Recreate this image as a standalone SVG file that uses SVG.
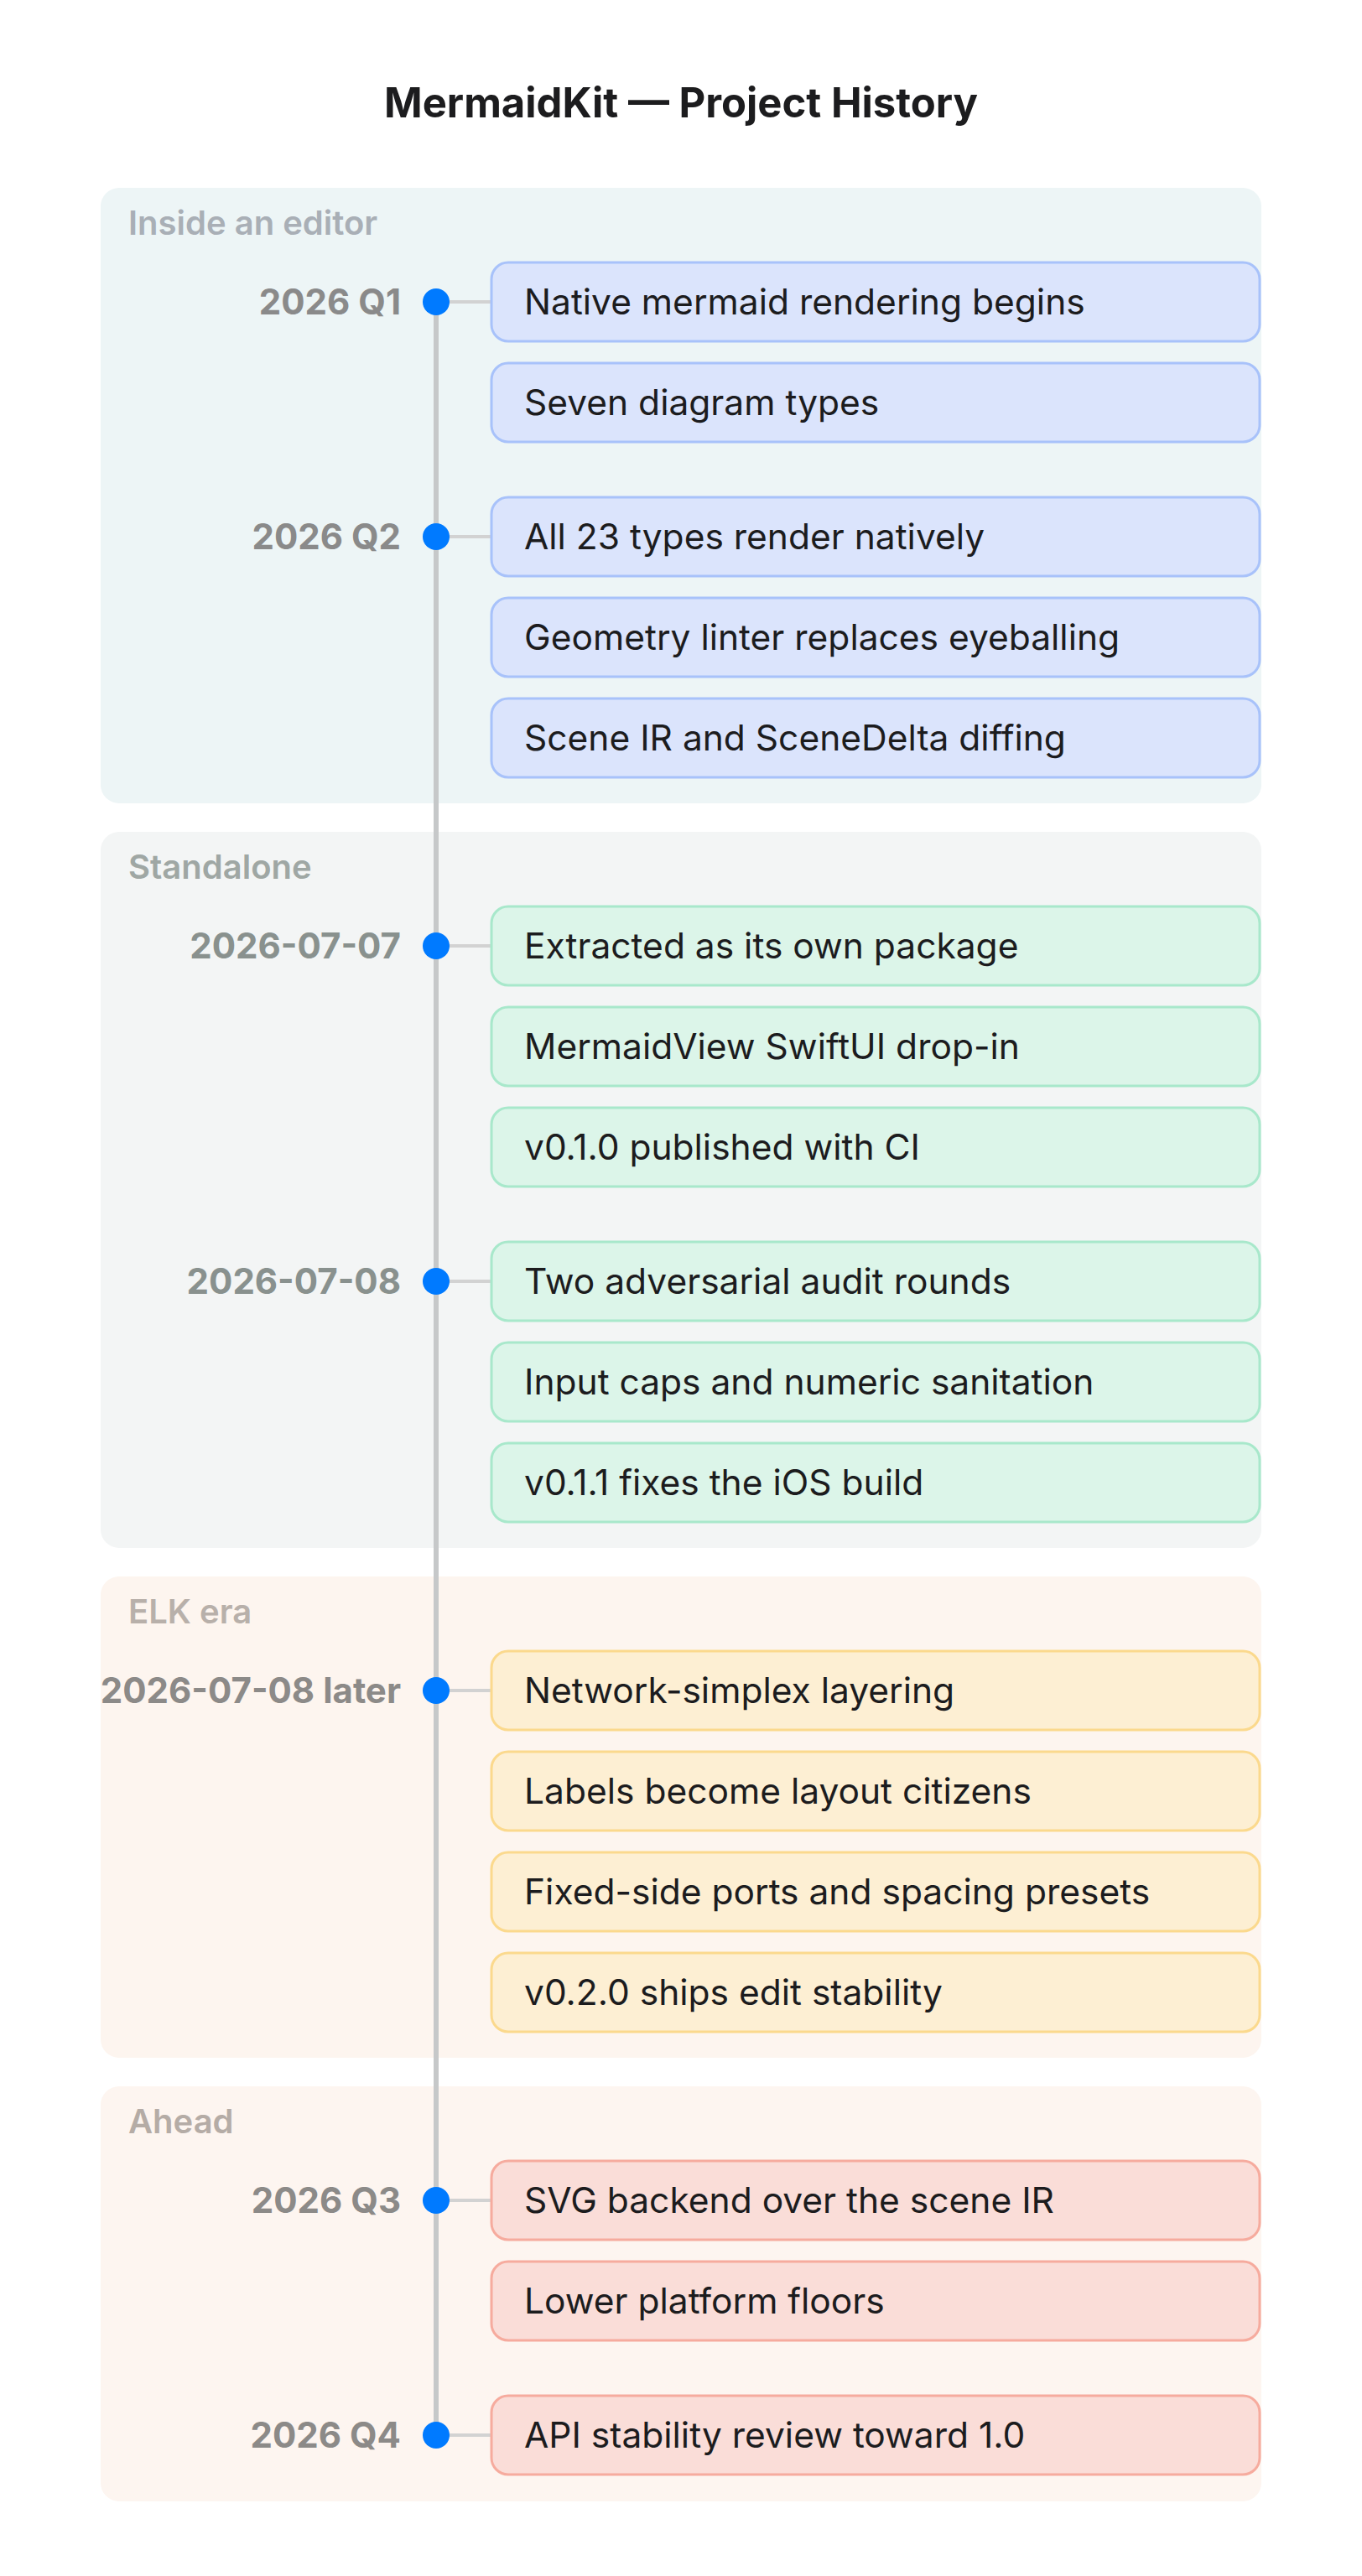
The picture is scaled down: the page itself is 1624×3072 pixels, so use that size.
<svg xmlns="http://www.w3.org/2000/svg" width="1624" height="3072" viewBox="0 0 1624 3072">
<style>
text { font-family: Inter, "Noto Sans", "Liberation Sans", sans-serif; }
.title { font-size: 49px; font-weight: 700; fill: #1c1c1e; }
.sec { font-size: 40px; font-weight: 600; }
.date { font-size: 42px; font-weight: 700; text-anchor: end; }
.ev { font-size: 42.5px; font-weight: 400; fill: #1c1c1e; }
.box { stroke-width: 3; }
.b1 { fill: #dbe4fc; stroke: #a8c2fa; }
.b2 { fill: #dcf5e9; stroke: #a8e8cb; }
.b3 { fill: #fdefd3; stroke: #fbd98d; }
.b4 { fill: #fadDd8; stroke: #f6ab9e; }
.tick { stroke: #d2d2d2; stroke-width: 4; }
.dot { fill: #007aff; }
</style>
<rect width="1624" height="3072" fill="#ffffff"/>
<text class="title" x="812" y="140" text-anchor="middle">MermaidKit — Project History</text>

<g id="section-inside-an-editor">
<rect x="120" y="224" width="1384" height="734" rx="22" fill="#edf5f6"/>
<text class="sec" x="153" y="280" fill="#a9afb6">Inside an editor</text>
</g>
<g id="section-standalone">
<rect x="120" y="992" width="1384" height="854" rx="22" fill="#f3f5f5"/>
<text class="sec" x="153" y="1048" fill="#9fa7a4">Standalone</text>
</g>
<g id="section-elk-era">
<rect x="120" y="1880" width="1384" height="574" rx="22" fill="#fdf5ef"/>
<text class="sec" x="153" y="1936" fill="#b8b0aa">ELK era</text>
</g>
<g id="section-ahead">
<rect x="120" y="2488" width="1384" height="495" rx="22" fill="#fdf5f0"/>
<text class="sec" x="153" y="2544" fill="#b5aca6">Ahead</text>
</g>

<g id="connectors">
<line x1="520" y1="360" x2="520" y2="2904" stroke="#c6c8c9" stroke-width="6"/>
<line class="tick" x1="520" y1="360" x2="586" y2="360"/>
<line class="tick" x1="520" y1="640" x2="586" y2="640"/>
<line class="tick" x1="520" y1="1128" x2="586" y2="1128"/>
<line class="tick" x1="520" y1="1528" x2="586" y2="1528"/>
<line class="tick" x1="520" y1="2016" x2="586" y2="2016"/>
<line class="tick" x1="520" y1="2624" x2="586" y2="2624"/>
<line class="tick" x1="520" y1="2904" x2="586" y2="2904"/>
</g>

<g id="marker-2026-q1"><circle class="dot" cx="520" cy="360" r="16"/><text class="date" x="478" y="375" fill="#8a8a8a">2026 Q1</text></g>
<g id="marker-2026-q2"><circle class="dot" cx="520" cy="640" r="16"/><text class="date" x="478" y="655" fill="#8a8a8a">2026 Q2</text></g>
<g id="marker-2026-07-07"><circle class="dot" cx="520" cy="1128" r="16"/><text class="date" x="478" y="1143" fill="#89918e">2026-07-07</text></g>
<g id="marker-2026-07-08"><circle class="dot" cx="520" cy="1528" r="16"/><text class="date" x="478" y="1543" fill="#89918e">2026-07-08</text></g>
<g id="marker-2026-07-08-later"><circle class="dot" cx="520" cy="2016" r="16"/><text class="date" x="478" y="2031" fill="#8c8a88">2026-07-08 later</text></g>
<g id="marker-2026-q3"><circle class="dot" cx="520" cy="2624" r="16"/><text class="date" x="478" y="2639" fill="#8c8a88">2026 Q3</text></g>
<g id="marker-2026-q4"><circle class="dot" cx="520" cy="2904" r="16"/><text class="date" x="478" y="2919" fill="#8c8a88">2026 Q4</text></g>

<g id="e1"><rect class="box b1" x="586" y="313" width="916" height="94" rx="20"/><text class="ev" x="625" y="375">Native mermaid rendering begins</text></g>
<g id="e2"><rect class="box b1" x="586" y="433" width="916" height="94" rx="20"/><text class="ev" x="625" y="495">Seven diagram types</text></g>
<g id="e3"><rect class="box b1" x="586" y="593" width="916" height="94" rx="20"/><text class="ev" x="625" y="655">All 23 types render natively</text></g>
<g id="e4"><rect class="box b1" x="586" y="713" width="916" height="94" rx="20"/><text class="ev" x="625" y="775">Geometry linter replaces eyeballing</text></g>
<g id="e5"><rect class="box b1" x="586" y="833" width="916" height="94" rx="20"/><text class="ev" x="625" y="895">Scene IR and SceneDelta diffing</text></g>

<g id="e6"><rect class="box b2" x="586" y="1081" width="916" height="94" rx="20"/><text class="ev" x="625" y="1143">Extracted as its own package</text></g>
<g id="e7"><rect class="box b2" x="586" y="1201" width="916" height="94" rx="20"/><text class="ev" x="625" y="1263">MermaidView SwiftUI drop-in</text></g>
<g id="e8"><rect class="box b2" x="586" y="1321" width="916" height="94" rx="20"/><text class="ev" x="625" y="1383">v0.1.0 published with CI</text></g>
<g id="e9"><rect class="box b2" x="586" y="1481" width="916" height="94" rx="20"/><text class="ev" x="625" y="1543">Two adversarial audit rounds</text></g>
<g id="e10"><rect class="box b2" x="586" y="1601" width="916" height="94" rx="20"/><text class="ev" x="625" y="1663">Input caps and numeric sanitation</text></g>
<g id="e11"><rect class="box b2" x="586" y="1721" width="916" height="94" rx="20"/><text class="ev" x="625" y="1783">v0.1.1 fixes the iOS build</text></g>

<g id="e12"><rect class="box b3" x="586" y="1969" width="916" height="94" rx="20"/><text class="ev" x="625" y="2031">Network-simplex layering</text></g>
<g id="e13"><rect class="box b3" x="586" y="2089" width="916" height="94" rx="20"/><text class="ev" x="625" y="2151">Labels become layout citizens</text></g>
<g id="e14"><rect class="box b3" x="586" y="2209" width="916" height="94" rx="20"/><text class="ev" x="625" y="2271">Fixed-side ports and spacing presets</text></g>
<g id="e15"><rect class="box b3" x="586" y="2329" width="916" height="94" rx="20"/><text class="ev" x="625" y="2391">v0.2.0 ships edit stability</text></g>

<g id="e16"><rect class="box b4" x="586" y="2577" width="916" height="94" rx="20"/><text class="ev" x="625" y="2639">SVG backend over the scene IR</text></g>
<g id="e17"><rect class="box b4" x="586" y="2697" width="916" height="94" rx="20"/><text class="ev" x="625" y="2759">Lower platform floors</text></g>
<g id="e18"><rect class="box b4" x="586" y="2857" width="916" height="94" rx="20"/><text class="ev" x="625" y="2919">API stability review toward 1.0</text></g>
</svg>
